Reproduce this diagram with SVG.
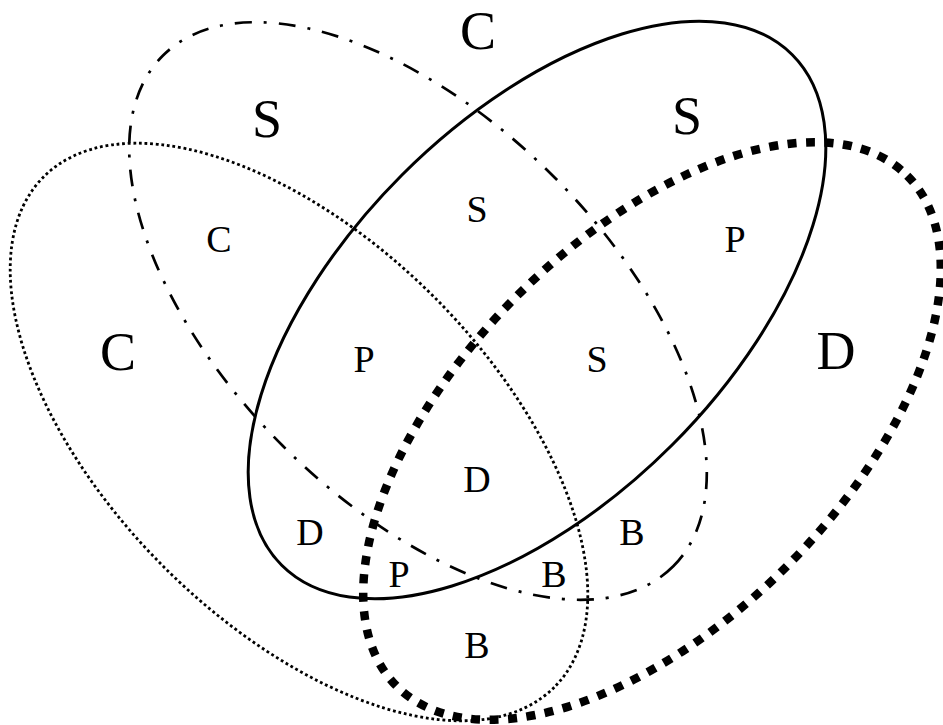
<svg xmlns="http://www.w3.org/2000/svg" width="943" height="725" viewBox="0 0 943 725">
<style>
.set{fill:none;stroke:#000}
.dot{stroke-width:2.8;stroke-dasharray:2.8 2.8}
.dashdot{stroke-width:2.7;stroke-dasharray:17 12 3 12}
.solid{stroke-width:3}
.thick{stroke-width:8.5;stroke-dasharray:9 9.5}
text{font-family:"Liberation Serif","Times New Roman",serif;fill:#000;text-anchor:middle}
.big{font-size:54px}
.small{font-size:38px}
</style>
<rect width="943" height="725" fill="#fff"/>
<g id="set-dotted"><ellipse class="set dot" cx="299" cy="432" rx="361" ry="191" transform="rotate(45 299 432)"/></g>
<g id="set-dashdot"><ellipse class="set dashdot" cx="418" cy="311" rx="361" ry="191" transform="rotate(45 418 311)"/></g>
<g id="set-solid"><ellipse class="set solid" cx="537" cy="310" rx="361" ry="191" transform="rotate(-45 537 310)"/></g>
<g id="set-thick"><ellipse class="set thick" cx="652" cy="431" rx="361" ry="191" transform="rotate(-45 652 431)"/></g>
<g id="labels">
<text class="big" x="478" y="49">C</text>
<text class="big" x="267" y="137">S</text>
<text class="big" x="687" y="134">S</text>
<text class="big" x="118" y="370">C</text>
<text class="big" x="836" y="369">D</text>
<text class="small" x="219" y="252">C</text>
<text class="small" x="477" y="222">S</text>
<text class="small" x="735" y="252">P</text>
<text class="small" x="364" y="372">P</text>
<text class="small" x="597" y="372">S</text>
<text class="small" x="477" y="492">D</text>
<text class="small" x="310" y="545">D</text>
<text class="small" x="632" y="545">B</text>
<text class="small" x="399" y="587">P</text>
<text class="small" x="554" y="587">B</text>
<text class="small" x="477" y="658">B</text>
</g>
</svg>
